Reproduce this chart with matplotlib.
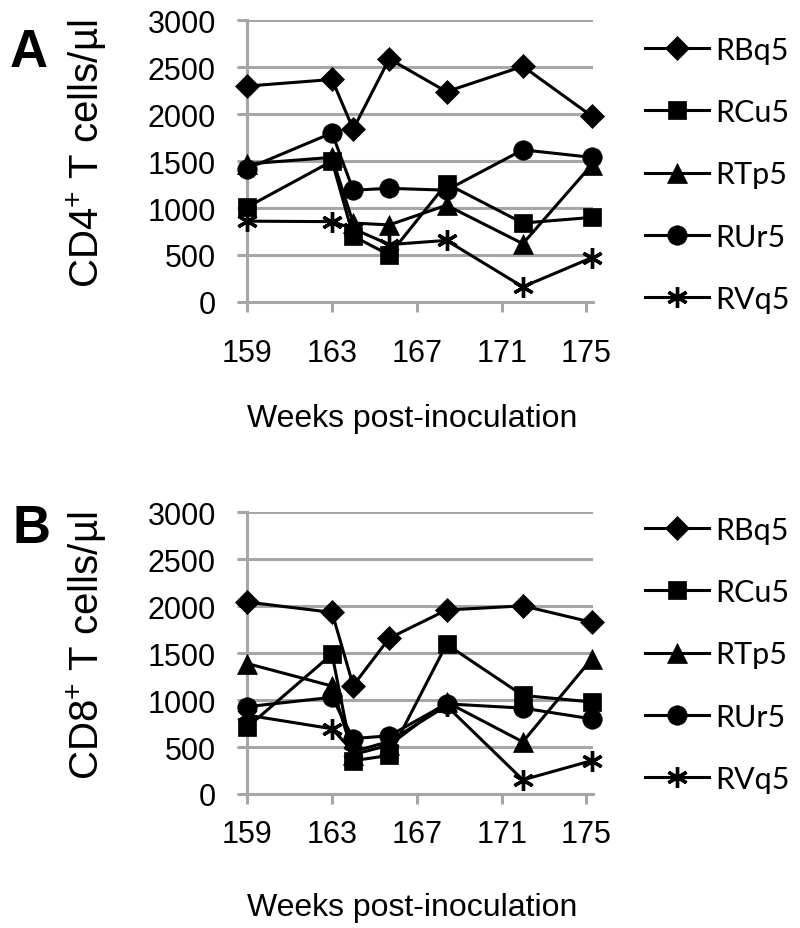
import numpy as np
import matplotlib
matplotlib.use("Agg")
import matplotlib.pyplot as plt

plt.rcParams['font.family'] = ['Liberation Sans', 'DejaVu Sans']
plt.rcParams['mathtext.default'] = 'regular'

weeks = [159, 163, 164, 165.7, 168.4, 172, 175.25]
animals = ["RBq5", "RCu5", "RTp5", "RUr5", "RVq5"]

# CD4+ counts (panel A)
cd4_RBq5 = [2300, 2370, 1840, 2590, 2240, 2510, 1980]
cd4_RCu5 = [1010, 1500, 700, 500, 1260, 840, 900]
cd4_RTp5 = [1470, 1540, 840, 820, 1030, 620, 1460]
cd4_RUr5 = [1420, 1800, 1190, 1210, 1190, 1620, 1540]
cd4_RVq5 = [860, 855, 780, 610, 655, 160, 470]

# CD8+ counts (panel B)
cd8_RBq5 = [2045, 1935, 1155, 1660, 1960, 2005, 1830]
cd8_RCu5 = [710, 1490, 355, 410, 1595, 1050, 980]
cd8_RTp5 = [1390, 1150, 420, 520, 980, 555, 1440]
cd8_RUr5 = [930, 1030, 590, 620, 960, 915, 800]
cd8_RVq5 = [840, 695, 450, 560, 940, 150, 355]

xticks = [159, 163, 167, 171, 175]
yticks = [0, 500, 1000, 1500, 2000, 2500, 3000]

markers = {"RBq5": "D", "RCu5": "s", "RTp5": "^", "RUr5": "o", "RVq5": (6, 2, 0)}
msizes = {"RBq5": 12, "RCu5": 13.5, "RTp5": 14, "RUr5": 14, "RVq5": 15}
zorders = {"RBq5": 3, "RCu5": 7, "RTp5": 5, "RUr5": 4, "RVq5": 6}

grey = "#a6a6a6"

fig = plt.figure(figsize=(8, 9.29), dpi=100)
axA = fig.add_axes([0.309, 0.674, 0.432, 0.303])
axB = fig.add_axes([0.309, 0.1443, 0.432, 0.303])

panels = [
    (axA, [cd4_RBq5, cd4_RCu5, cd4_RTp5, cd4_RUr5, cd4_RVq5], r"CD4$^{+}$ T cells/µl", 19, 0.945, -0.36),
    (axB, [cd8_RBq5, cd8_RCu5, cd8_RTp5, cd8_RUr5, cd8_RVq5], r"CD8$^{+}$ T cells/µl", 11, 0.988, -0.35),
]

for ax, series, ylab, xpad, legy, xly in panels:
    for name, vals in zip(animals, series):
        mk = markers[name]
        kw = dict(color="black", lw=2.2, marker=mk, markersize=msizes[name],
                  label=name, zorder=zorders[name], clip_on=False)
        if name == "RVq5":
            kw.update(markeredgewidth=2.4, markerfacecolor="black")
        else:
            kw.update(markeredgewidth=0.5)
        ax.plot(weeks, vals, **kw)

    ax.set_xlim(159, 175.3)
    ax.set_ylim(0, 3000)
    ax.set_xticks(xticks)
    ax.set_yticks(yticks)
    ax.set_xticklabels([str(t) for t in xticks], fontsize=22)
    ax.set_yticklabels([str(t) for t in yticks], fontsize=22)
    ax.yaxis.grid(True, color=grey, lw=2.2, zorder=0)
    ax.set_axisbelow(True)
    for s in ["top", "right"]:
        ax.spines[s].set_visible(False)
    for s in ["left", "bottom"]:
        ax.spines[s].set_color(grey)
        ax.spines[s].set_linewidth(2.2)
    ax.tick_params(axis="y", length=7.5, width=2.2, color=grey, pad=15)
    ax.tick_params(axis="x", length=7, width=2.2, color=grey, pad=xpad)

    ax.set_ylabel(ylab, fontsize=29)
    ax.yaxis.set_label_coords(-0.40, 0.53)
    ax.set_xlabel("Weeks post-inoculation", fontsize=23)
    ax.xaxis.set_label_coords(0.477, xly)

    ax.legend(loc="upper left", bbox_to_anchor=(1.15, legy), frameon=False,
              handlelength=2.1, handletextpad=0.2,
              labelspacing=1.12, borderpad=0, borderaxespad=0,
              prop={"family": ["Lato", "DejaVu Sans"], "size": 22})

fig.text(0.012, 0.97, "A", fontsize=38, fontweight="bold", va="top", ha="left")
fig.text(0.015, 0.458, "B", fontsize=38, fontweight="bold", va="top", ha="left")

fig.savefig("out.png", dpi=100)
